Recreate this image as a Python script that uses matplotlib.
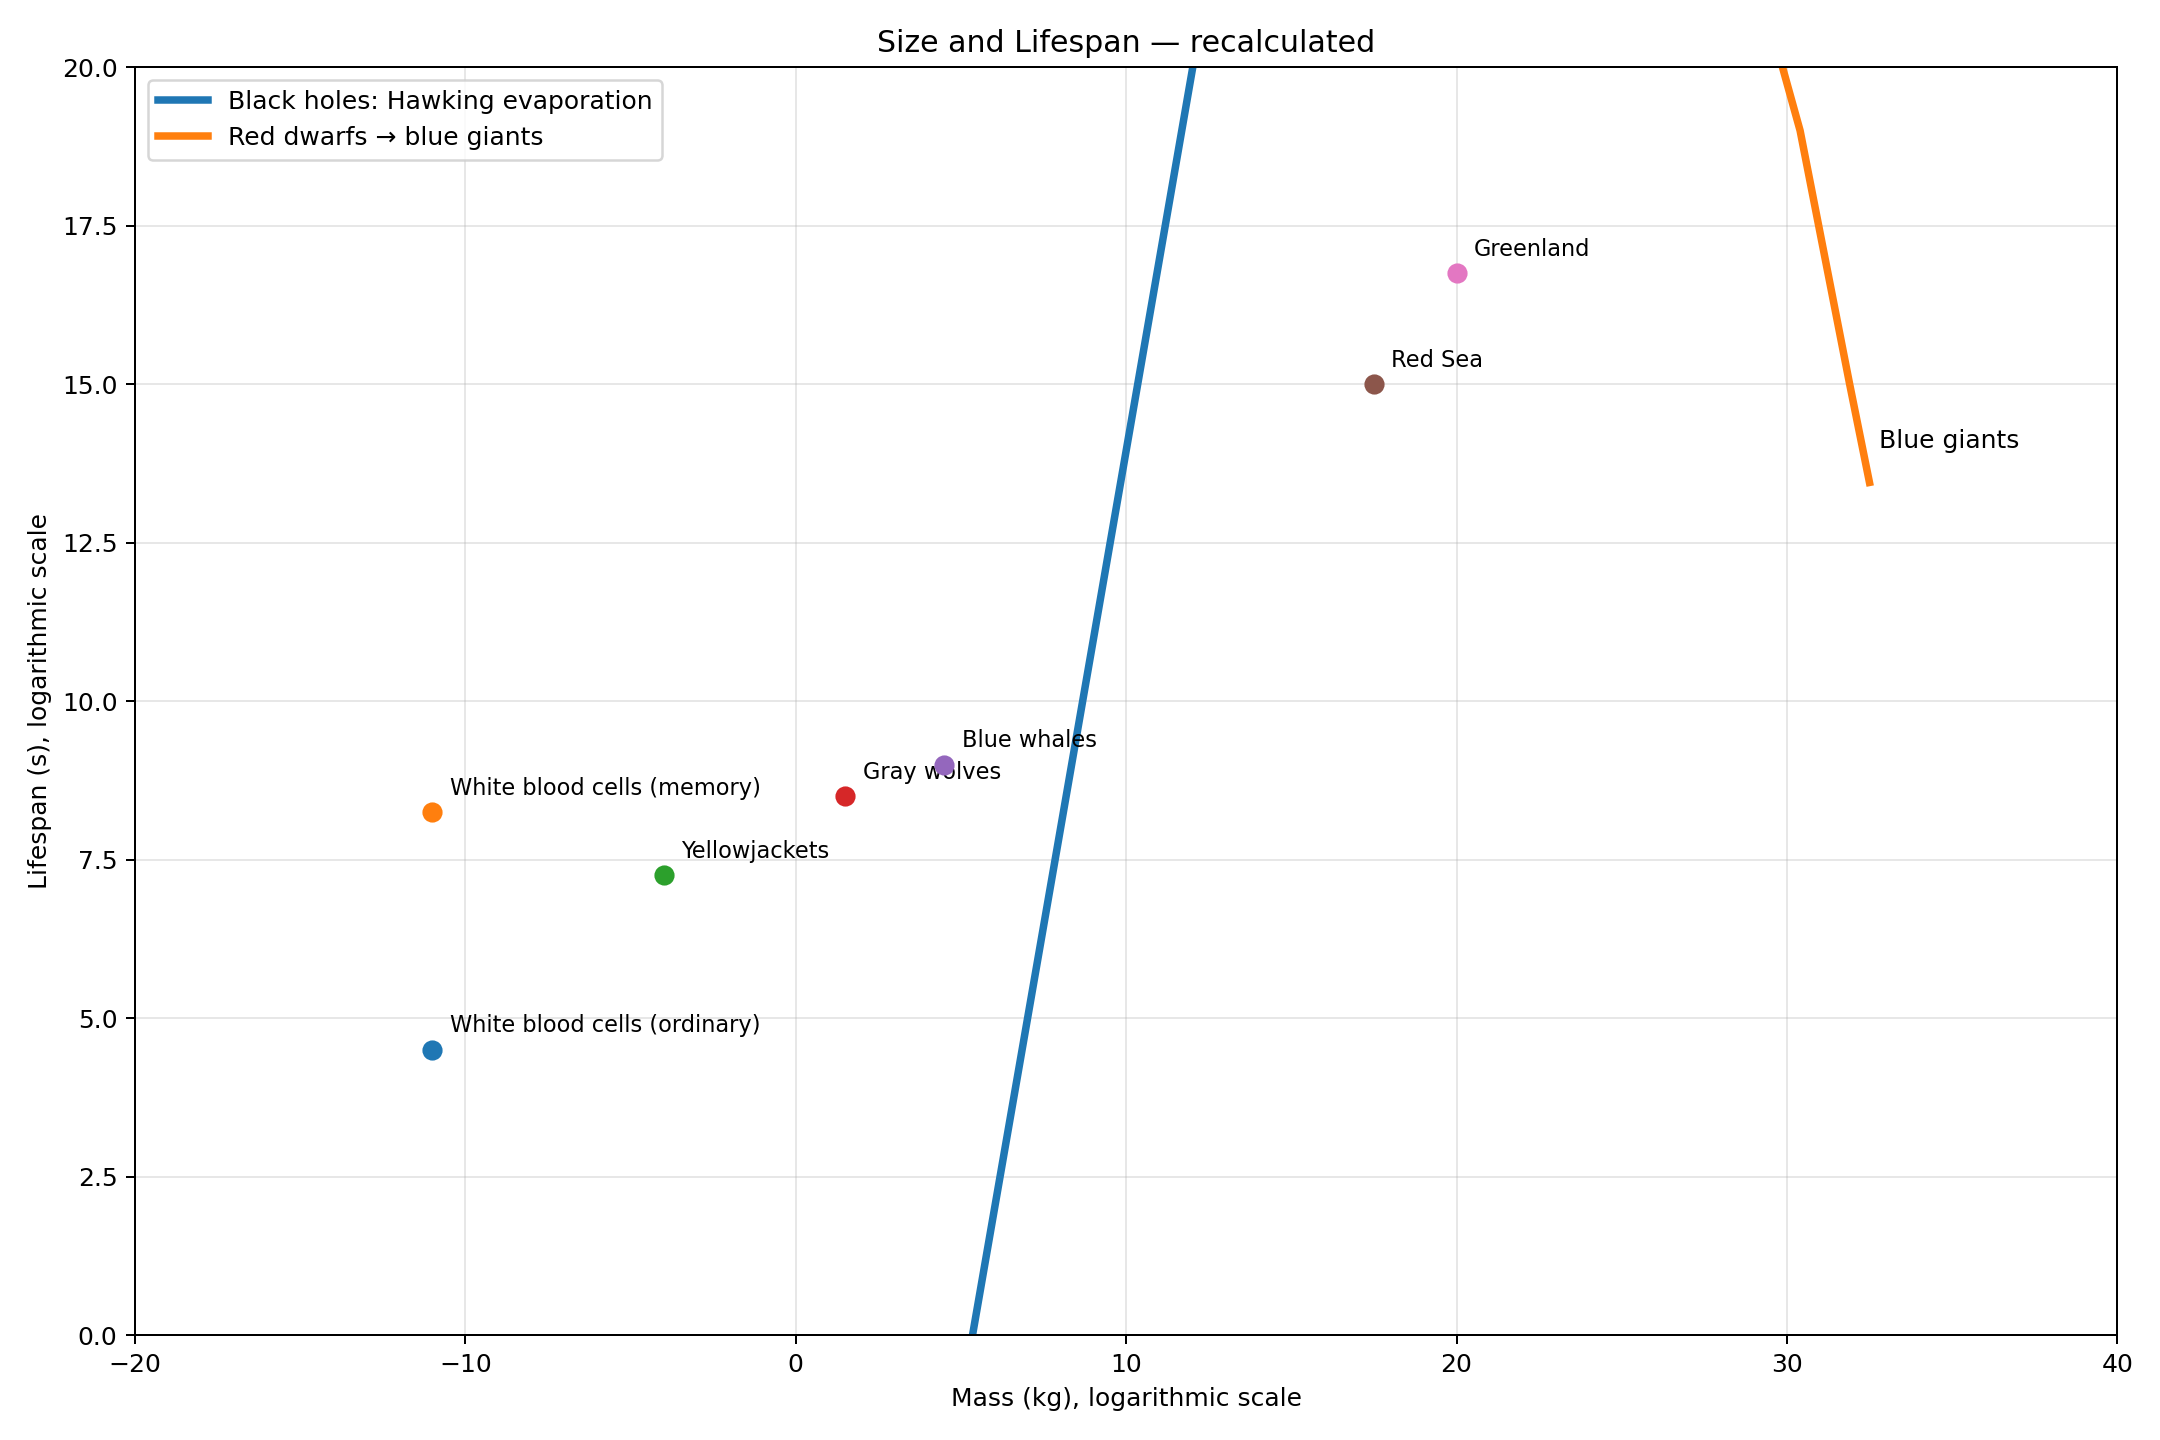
"""Size vs lifespan, log-log, recalculated."""

import matplotlib
matplotlib.use("Agg")
import matplotlib.pyplot as plt

# log10 mass (kg) and log10 lifespan (s)
point_names = ["White blood cells (ordinary)", "White blood cells (memory)", "Yellowjackets",
               "Gray wolves", "Blue whales", "Red Sea", "Greenland"]
point_mass = [-11.0, -11.0, -4.0, 1.5, 4.5, 17.5, 20.0]
point_life = [4.5, 8.25, 7.25, 8.5, 9.0, 15.0, 16.75]
point_colours = ["C0", "C1", "C2", "C3", "C4", "C5", "C6"]

bh_mass = [5.0, 12.5]
bh_life = [-1.05, 21.45]

star_mass = [29.6, 30.4, 31.0, 31.9, 32.5]
star_life = [20.5, 19.0, 17.4, 15.0, 13.45]


def main(save_path="out.png"):
    fig, ax = plt.subplots(figsize=(12, 8))

    ax.plot(bh_mass, bh_life, color="C0", linewidth=3, label="Black holes: Hawking evaporation")
    ax.plot(star_mass, star_life, color="C1", linewidth=3, label="Red dwarfs \u2192 blue giants")

    for name, m, t, c in zip(point_names, point_mass, point_life, point_colours):
        ax.scatter(m, t, s=50, color=c, zorder=3)
        ax.annotate(name, (m, t), xytext=(7, 7), textcoords="offset points", fontsize=9)

    ax.text(star_mass[-1] + 0.3, 14.0, "Blue giants", fontsize=10)

    ax.set_xlim(-20, 40); ax.set_ylim(0, 20)
    ax.set_xlabel("Mass (kg), logarithmic scale")
    ax.set_ylabel("Lifespan (s), logarithmic scale")
    ax.set_title("Size and Lifespan \u2014 recalculated")
    ax.grid(alpha=0.3)
    ax.legend(loc="upper left")

    fig.tight_layout()
    fig.savefig(save_path, dpi=180)


if __name__ == "__main__":
    main()
